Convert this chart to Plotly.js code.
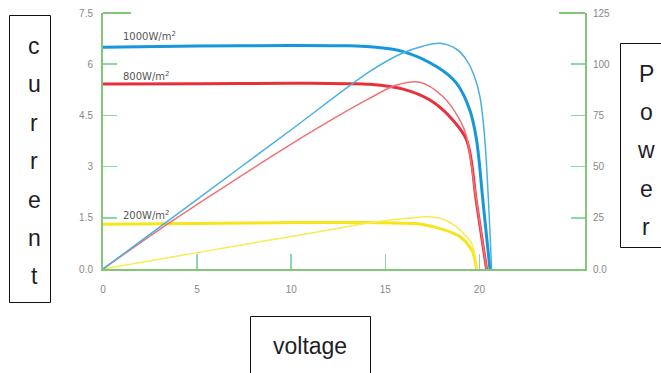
<!DOCTYPE html>
<html>
<head>
<meta charset="utf-8">
<script src="https://cdn.plot.ly/plotly-3.0.1.min.js"></script>
<style>
  html, body { margin: 0; padding: 0; background: #fff; }
  #chart { width: 661px; height: 373px; }
</style>
</head>
<body>
<div id="chart"></div>
<script>
// ---- data ----
// 1000 W/m2
const vBlueI = [0, 5, 10, 13, 14.18, 15.95, 17.72, 18.79, 19.49, 19.85, 20.2, 20.56];
const iBlue  = [6.50, 6.53, 6.55, 6.54, 6.51, 6.37, 5.93, 5.44, 4.66, 3.78, 1.93, 0];
const vBlueP = [0, 5, 10, 14.18, 15.95, 17.0, 17.9, 18.79, 19.32, 19.7, 20.03, 20.29, 20.65];
const pBlue  = [0, 34, 68, 96.5, 105.6, 108.8, 110.2, 107.3, 102, 95, 84.1, 63, 0];
// 800 W/m2
const vRedI = [0, 5, 10, 13, 14.18, 15.95, 17.37, 18.43, 19.32, 19.85, 20.38];
const iRed  = [5.42, 5.43, 5.44, 5.43, 5.41, 5.27, 4.95, 4.46, 3.78, 1.93, 0];
const vRedP = [0, 3.4, 5, 10, 14.18, 15.6, 16.84, 18.07, 18.96, 19.32, 19.85, 20.38];
const pRed  = [0, 21.8, 31.5, 61, 83.4, 89.8, 91.2, 84.1, 72.8, 64.6, 33, 0];
// 200 W/m2
const vYelI = [0, 5, 10.45, 14.0, 16.84, 17.54, 18.61, 18.96, 19.49, 19.67, 19.85];
const iYel  = [1.31, 1.33, 1.36, 1.36, 1.32, 1.24, 1.05, 0.95, 0.65, 0.46, 0];
const vYelP = [0, 5, 10, 12.6, 14.0, 15.5, 16.66, 17.2, 18.0, 18.7, 19.3, 19.59, 19.8, 19.88];
const pYel  = [0, 8, 15.9, 20, 22.3, 24.2, 25.2, 25.5, 24.5, 21.2, 16, 12.5, 5, 0];

const xTicks = [0, 5, 10, 15, 20];
const xTickText = ['0', '5', '10', '15', '20'];
const yTicks = [0, 1.5, 3, 4.5, 6, 7.5];
const yTickText = ['0.0', '1.5', '3', '4.5', '6', '7.5'];
const y2Ticks = [0, 25, 50, 75, 100, 125];
const y2TickText = ['0.0', '25', '50', '75', '100', '125'];
const curveLabels = ['1000W/m<sup>2</sup>', '800W/m<sup>2</sup>', '200W/m<sup>2</sup>'];

// ---- layout helpers (pixel -> paper) ----
const L = 103, R = 585, T = 13, B = 269;
const px = x => (x - L) / (R - L);
const py = y => (B - y) / (B - T);

const green = '#80c878';
const tickGreen = '#8ad8a4';

function cur(x, y, color) {
  return {x, y, type: 'scatter', mode: 'lines', yaxis: 'y',
    line: {color, width: 3, shape: 'spline', smoothing: 0.9}, hoverinfo: 'skip'};
}
function pow(x, y, color) {
  return {x, y, type: 'scatter', mode: 'lines', yaxis: 'y2',
    line: {color, width: 1.5, shape: 'spline', smoothing: 0.9}, hoverinfo: 'skip'};
}

const data = [
  cur(vYelI, iYel, '#f7e41a'),
  pow(vYelP, pYel, '#f8ea55'),
  cur(vRedI, iRed, '#e9303a'),
  pow(vRedP, pRed, '#f07078'),
  cur(vBlueI, iBlue, '#1797db'),
  pow(vBlueP, pBlue, '#4ab0e4'),
];

const tickFont = {family: 'Liberation Sans, Arial, sans-serif', size: 10, color: '#888'};
const letterFont = {family: 'Liberation Sans, Arial, sans-serif', size: 23, color: '#1e1e28'};

const annotations = [];
function addText(text, x, y, font, xanchor) {
  annotations.push({text, xref: 'paper', yref: 'paper', x: px(x), y: py(y),
    xanchor: xanchor || 'center', yanchor: 'middle', showarrow: false, font});
}
const labelFont = {family: 'DejaVu Sans, sans-serif', size: 10, color: '#555'};
addText(curveLabels[0], 121, 36, labelFont, 'left');
addText(curveLabels[1], 121, 76, labelFont, 'left');
addText(curveLabels[2], 121, 215, labelFont, 'left');

const currentLetters = 'current'.split('');
currentLetters.forEach((c, i) => addText(c, 34, 46 + 38.4 * i, letterFont));
const powerLetters = 'Power'.split('');
powerLetters.forEach((c, i) => addText(c, 646, 74 + 38.2 * i, letterFont));
addText('voltage', 310, 346, letterFont);

const shapes = [
  {type: 'line', xref: 'paper', yref: 'paper', x0: 0, x1: px(131), y0: 1, y1: 1, line: {color: green, width: 2}},
  {type: 'line', xref: 'paper', yref: 'paper', x0: px(559), x1: 1, y0: 1, y1: 1, line: {color: green, width: 2}},
  {type: 'rect', xref: 'paper', yref: 'paper', x0: px(9.5), x1: px(50.5), y0: py(302.5), y1: py(15.5), line: {color: '#111', width: 1}},
  {type: 'rect', xref: 'paper', yref: 'paper', x0: px(620.5), x1: px(665), y0: py(247.5), y1: py(43.5), line: {color: '#111', width: 1}},
  {type: 'rect', xref: 'paper', yref: 'paper', x0: px(250.5), x1: px(370.5), y0: py(385), y1: py(316.5), line: {color: '#111', width: 1}},
];

const layout = {
  width: 661, height: 373,
  margin: {l: L, r: 661 - R, t: T, b: 373 - B},
  paper_bgcolor: '#fff', plot_bgcolor: '#fff',
  showlegend: false,
  xaxis: {
    range: [0, (R - L - 0.5) / 18.8], tickvals: xTicks, ticktext: xTickText,
    showgrid: false, zeroline: false, showline: true, linecolor: green, linewidth: 2,
    ticks: 'inside', ticklen: 15, tickwidth: 1.5, tickcolor: tickGreen,
    tickfont: tickFont, ticklabelstandoff: 10, fixedrange: true
  },
  yaxis: {
    range: [0, 7.5], tickvals: yTicks, ticktext: yTickText,
    showgrid: false, zeroline: false, showline: true, linecolor: green, linewidth: 2,
    ticks: 'inside', ticklen: 14, tickwidth: 1.5, tickcolor: tickGreen,
    tickfont: tickFont, ticklabelstandoff: 6, fixedrange: true
  },
  yaxis2: {
    overlaying: 'y', side: 'right',
    range: [0, 125], tickvals: y2Ticks, ticktext: y2TickText,
    showgrid: false, zeroline: false, showline: true, linecolor: green, linewidth: 2,
    ticks: 'inside', ticklen: 14, tickwidth: 1.5, tickcolor: tickGreen,
    tickfont: tickFont, ticklabelstandoff: 4, fixedrange: true
  },
  annotations, shapes
};

Plotly.newPlot('chart', data, layout, {staticPlot: true, displayModeBar: false});
</script>
</body>
</html>
